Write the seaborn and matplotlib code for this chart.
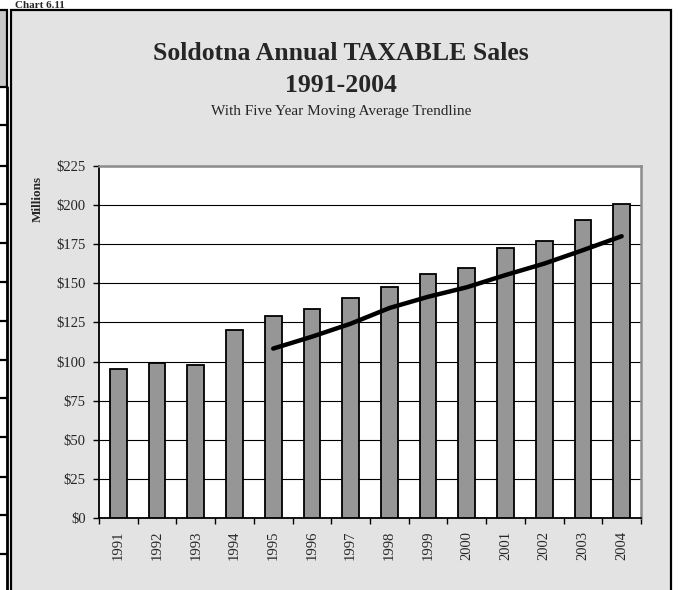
import matplotlib
matplotlib.use("Agg")
import matplotlib.pyplot as plt
import seaborn as sns
import pandas as pd
from matplotlib.patches import Rectangle
from matplotlib.lines import Line2D
from matplotlib.ticker import FuncFormatter, MultipleLocator

# Annual taxable sales, $ millions
years = ['1991', '1992', '1993', '1994', '1995', '1996', '1997',
         '1998', '1999', '2000', '2001', '2002', '2003', '2004']
sales = [95.1, 99.0, 98.1, 120.0, 129.1, 133.4, 140.6,
         147.9, 156.0, 159.6, 172.4, 177.1, 190.8, 200.4]

# Five year moving average trendline (starts at 1995)
trend_years = ['1995', '1996', '1997', '1998', '1999',
               '2000', '2001', '2002', '2003', '2004']
trend = [108.3, 115.9, 124.2, 134.2, 141.4, 147.5, 155.3, 162.6, 171.2, 180.1]

sns.set_style('white')
plt.rcParams['font.family'] = ['Liberation Serif', 'DejaVu Serif']

W, H = 678, 590
fig = plt.figure(figsize=(W / 100, H / 100), dpi=100)
fig.patch.set_facecolor('white')

def fx(px):
    return px / W

def fy(py):
    return 1 - py / H

# chart box (grey panel)
fig.patches.append(Rectangle((fx(11), fy(600)), fx(671) - fx(11), fy(10) - fy(600),
                             transform=fig.transFigure, facecolor='#e3e3e3',
                             edgecolor='black', linewidth=1.6, zorder=-10))

# bits of the table on the left edge
fig.patches.append(Rectangle((fx(-5), fy(87)), fx(7) - fx(-5), fy(10) - fy(87),
                             transform=fig.transFigure, facecolor='#c8c8c8',
                             edgecolor='black', linewidth=1.6, zorder=-10))
fig.lines.append(Line2D([fx(7), fx(7)], [fy(87), fy(600)], transform=fig.transFigure,
                        color='black', linewidth=2.0, zorder=-5))
for py in [125, 166, 204, 243, 282, 321, 360, 398, 437, 477, 515, 554]:
    fig.lines.append(Line2D([0, fx(7)], [fy(py), fy(py)], transform=fig.transFigure,
                            color='black', linewidth=1.6, zorder=-5))

fig.text(fx(15), fy(8), 'Chart 6.11', fontsize=8, fontweight='bold', va='baseline')

ax = fig.add_axes([fx(99), fy(518), fx(641) - fx(99), fy(166) - fy(518)])
ax.set_facecolor('white')

df = pd.DataFrame({'year': years, 'sales': sales})
sns.barplot(data=df, x='year', y='sales', color='#969696', edgecolor='black',
            linewidth=1.3, width=0.43, saturation=1, ax=ax, zorder=3)

trend_x = [years.index(y) for y in trend_years]
sns.lineplot(x=trend_x, y=trend, color='black', linewidth=3.2, ax=ax, zorder=4,
             solid_capstyle='round')

ax.set_xlim(-0.5, len(years) - 0.5)
ax.set_ylim(0, 225)
ax.yaxis.set_major_locator(MultipleLocator(25))
ax.yaxis.set_major_formatter(FuncFormatter(lambda v, p: f'${v:.0f}'))
ax.grid(axis='y', color='black', linewidth=0.8, zorder=1)
ax.set_axisbelow(True)

ax.set_xticks([i - 0.5 for i in range(len(years) + 1)], minor=False)
ax.set_xticklabels([])
ax.set_xticks(range(len(years)), minor=True)
ax.set_xticklabels(years, minor=True, rotation=90, fontsize=10.5)
ax.tick_params(axis='x', which='major', direction='out', length=4.5, width=1, color='black', bottom=True)
ax.tick_params(axis='x', which='minor', length=0, pad=9)
ax.tick_params(axis='y', direction='out', length=4.5, width=1, color='black', left=True,
               labelsize=10.5, pad=5)
ax.set_xlabel('')
ax.set_ylabel('')

for side in ['left', 'bottom']:
    ax.spines[side].set_color('black')
    ax.spines[side].set_linewidth(1.3)
for side in ['top', 'right']:
    ax.spines[side].set_color('#8c8c8c')
    ax.spines[side].set_linewidth(1.8)
    ax.spines[side].set_visible(True)

fig.text(fx(38), fy(199), 'Millions', rotation=90, fontsize=9.5, fontweight='bold',
         ha='center', va='center')

fig.text(fx(341), fy(53), 'Soldotna Annual TAXABLE Sales', fontsize=18.5,
         fontweight='bold', ha='center', va='center')
fig.text(fx(341), fy(85), '1991-2004', fontsize=18.5, fontweight='bold',
         ha='center', va='center')
fig.text(fx(341), fy(111), 'With Five Year Moving Average Trendline', fontsize=11,
         ha='center', va='center')

fig.savefig('out.png', dpi=100)
